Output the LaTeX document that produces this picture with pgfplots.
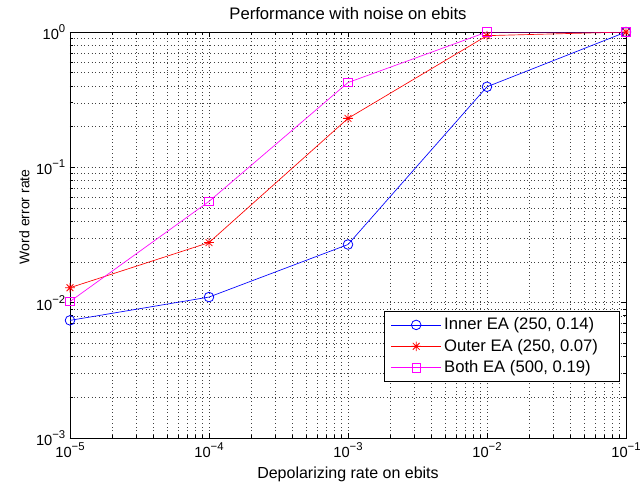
\documentclass[border=0pt]{standalone}
\usepackage{fontspec}
\setmainfont{Liberation Sans}
\usepackage{pgfplots}
\pgfplotsset{compat=1.18}
\newcommand{\tl}[1]{10\raisebox{0.9ex}{\fontsize{8.5}{9}\selectfont #1}}
\pgfdeclareplotmark{mstar}{%
 \pgfpathmoveto{\pgfqpoint{-\pgfplotmarksize}{0pt}}\pgfpathlineto{\pgfqpoint{\pgfplotmarksize}{0pt}}%
 \pgfpathmoveto{\pgfqpoint{0pt}{-\pgfplotmarksize}}\pgfpathlineto{\pgfqpoint{0pt}{\pgfplotmarksize}}%
 \pgfpathmoveto{\pgfqpoint{-0.707\pgfplotmarksize}{-0.707\pgfplotmarksize}}\pgfpathlineto{\pgfqpoint{0.707\pgfplotmarksize}{0.707\pgfplotmarksize}}%
 \pgfpathmoveto{\pgfqpoint{-0.707\pgfplotmarksize}{0.707\pgfplotmarksize}}\pgfpathlineto{\pgfqpoint{0.707\pgfplotmarksize}{-0.707\pgfplotmarksize}}%
 \pgfusepathqstroke}
\definecolor{mblue}{RGB}{0,0,255}
\definecolor{mred}{RGB}{255,0,0}
\definecolor{mmag}{RGB}{255,0,255}
\begin{document}
\begin{tikzpicture}
\useasboundingbox (-52.5pt,-36.75pt) rectangle (427.5pt,328.5pt);
\begin{axis}[
  scale only axis, width=417pt, height=304.5pt,
  xmode=log, ymode=log,
  xmin=1e-5, xmax=1e-1, ymin=1e-3, ymax=1,
  xtick={1e-5,1e-4,1e-3,1e-2,1e-1},
  xticklabels={\tl{−5},\tl{−4},\tl{−3},\tl{−2},\tl{−1}},
  ytick={1e-3,1e-2,1e-1,1},
  yticklabels={\tl{−3},\tl{−2},\tl{−1},\tl{0}},
  tick label style={font=\fontsize{11}{13}\selectfont},
  title={Performance with noise on ebits},
  title style={font=\fontsize{12.5}{14}\selectfont, yshift=0pt},
  xlabel={Depolarizing rate on ebits},
  xlabel style={font=\fontsize{12}{14}\selectfont, yshift=0pt},
  ylabel={Word error rate},
  ylabel style={font=\fontsize{10.5}{12}\selectfont, at={(ticklabel cs:0.545)}, yshift=-2pt},
  grid=both,
  major grid style={black!75, line width=0.4pt, dash pattern=on 0.5pt off 2.2pt},
  minor grid style={black!75, line width=0.4pt, dash pattern=on 0.5pt off 2.2pt},
  axis line style={black, line width=0.7pt},
  tick style={black, line width=0.5pt},
  major tick length=4pt, minor tick length=2.5pt,
  legend style={at={(0.989,0.138)}, anchor=south east, draw=black, line width=0.8pt,
    fill=white, font=\fontsize{12.5}{14}\selectfont, row sep=1.5pt, inner xsep=5pt, inner ysep=3pt,
    cells={anchor=west}},
  legend cell align=left,
  legend image code/.code={\draw[mark repeat=2,mark phase=2] plot coordinates {(0cm,0cm) (0.66cm,0cm) (1.32cm,0cm)};},
]
\addplot[mblue, line width=0.5pt, mark=o, mark size=3.6pt, mark options={solid, line width=0.6pt}]
 coordinates {(1e-5,0.0074) (1e-4,0.0110) (1e-3,0.0269) (1e-2,0.394) (1e-1,1.0)};
\addlegendentry{\mbox{Inner EA (250, 0.14)\kern9pt}}
\addplot[mred, line width=0.5pt, mark=mstar, mark size=3.6pt, mark options={solid, line width=0.6pt}]
 coordinates {(1e-5,0.0129) (1e-4,0.0278) (1e-3,0.230) (1e-2,0.94) (1e-1,1.0)};
\addlegendentry{\mbox{Outer EA (250, 0.07)\kern9pt}}
\addplot[mmag, line width=0.5pt, mark=square, mark size=3.2pt, mark options={solid, line width=0.6pt}]
 coordinates {(1e-5,0.0102) (1e-4,0.056) (1e-3,0.423) (1e-2,1.0) (1e-1,1.0)};
\addlegendentry{Both EA (500, 0.19)}
\end{axis}
\end{tikzpicture}
\end{document}
